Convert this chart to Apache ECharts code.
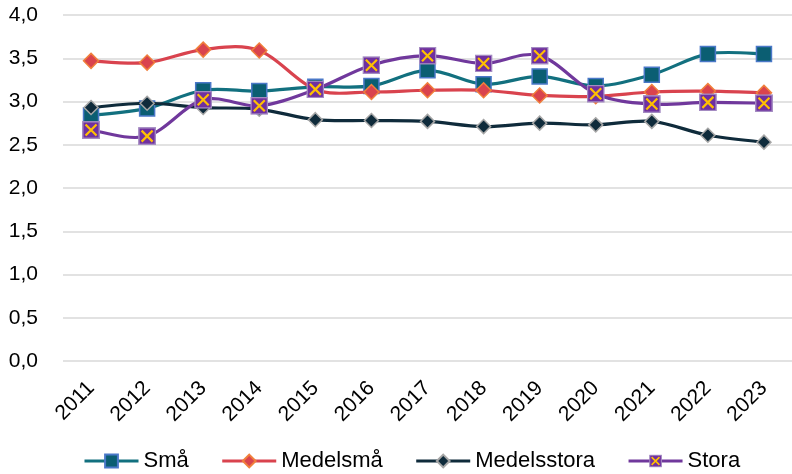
<!DOCTYPE html>
<html><head><meta charset="utf-8">
<script src="https://cdn.jsdelivr.net/npm/echarts@6/dist/echarts.min.js"></script>
<style>html,body{margin:0;padding:0;background:#fff}#c{width:792px;height:474px}</style>
</head><body><div id="c"></div>
<script>
const years = ['2011','2012','2013','2014','2015','2016','2017','2018','2019','2020','2021','2022','2023'];
const sma = [2.84, 2.92, 3.13, 3.12, 3.17, 3.18, 3.36, 3.20, 3.29, 3.18, 3.31, 3.55, 3.55];
const medelsma = [3.47, 3.45, 3.60, 3.59, 3.14, 3.11, 3.13, 3.13, 3.07, 3.06, 3.11, 3.12, 3.10];
const medelsstora = [2.93, 2.98, 2.93, 2.91, 2.79, 2.78, 2.77, 2.71, 2.75, 2.73, 2.77, 2.61, 2.53];
const stora = [2.67, 2.60, 3.02, 2.95, 3.14, 3.42, 3.53, 3.44, 3.53, 3.09, 2.97, 2.99, 2.98];
const yTicks = [0, 0.5, 1, 1.5, 2, 2.5, 3, 3.5, 4];

const FONT = 'Liberation Sans';
const xSvg = "<svg xmlns='http://www.w3.org/2000/svg' width='18' height='18'><rect x='0.75' y='0.75' width='16.5' height='16.5' fill='#70309F' stroke='#A48BC2' stroke-width='1.5'/><path d='M3.5 3.5L14.5 14.5M14.5 3.5L3.5 14.5' stroke='#FFC000' stroke-width='2.2'/></svg>";
const xSymbol = 'image://data:image/svg+xml;charset=utf-8,' + encodeURIComponent(xSvg);

const chart = echarts.init(document.getElementById('c'));

// Smooth curve (Excel-like Catmull-Rom) drawn through the axis scales via api.coord
function curve(values, color, z) {
  return {
    type: 'custom', coordinateSystem: 'cartesian2d', z, silent: true,
    data: [[0, values[0]]],
    renderItem: function (params, api) {
      const p = values.map((v, i) => api.coord([i, v]));
      const n = p.length;
      let d = 'M' + p[0][0] + ' ' + p[0][1];
      for (let i = 0; i < n - 1; i++) {
        const p0 = p[Math.max(i - 1, 0)], p1 = p[i], p2 = p[i + 1], p3 = p[Math.min(i + 2, n - 1)];
        const c1x = p1[0] + (p2[0] - p0[0]) / 6, c1y = p1[1] + (p2[1] - p0[1]) / 6;
        const c2x = p2[0] - (p3[0] - p1[0]) / 6, c2y = p2[1] - (p3[1] - p1[1]) / 6;
        d += ' C' + c1x + ' ' + c1y + ' ' + c2x + ' ' + c2y + ' ' + p2[0] + ' ' + p2[1];
      }
      return { type: 'path', shape: { pathData: d }, style: { fill: 'none', stroke: color, lineWidth: 3.2, lineJoin: 'round', lineCap: 'round' } };
    },
    animation: false
  };
}
function marks(name, data, symbol, size, fill, border, z) {
  return {
    name, type: 'line', data, z,
    symbol, symbolSize: size, showSymbol: true,
    lineStyle: { width: 0, opacity: 0 },
    itemStyle: { color: fill, borderColor: border, borderWidth: 1.5 },
    emphasis: { disabled: true }, animation: false
  };
}
const colors = { sma: '#12707F', med: '#D9434E', mst: '#0F2B3B', sto: '#70389C' };
chart.setOption({
  animation: false,
  grid: { left: 63, top: 15, width: 736, bottom: 113, containLabel: false },
  xAxis: {
    type: 'category', data: years, boundaryGap: true,
    axisLine: { show: false }, axisTick: { show: false },
    axisLabel: { rotate: 45, margin: 24, fontSize: 21, color: '#000', fontFamily: FONT, interval: 0 }
  },
  yAxis: {
    type: 'value', min: 0, max: 4, interval: 0.5,
    axisLine: { show: false }, axisTick: { show: false },
    splitLine: { lineStyle: { color: '#D9D9D9', width: 1.5 } },
    axisLabel: { margin: 25, fontSize: 21, color: '#000', fontFamily: FONT,
      formatter: v => yTicks.includes(v) ? v.toFixed(1).replace('.', ',') : '' }
  },
  legend: {
    left: 83, top: 450, padding: 0, itemWidth: 54, itemHeight: 16, itemGap: 32,
    textStyle: { fontSize: 22, color: '#000', fontFamily: FONT },
    data: [
      { name: 'Små', lineStyle: { color: colors.sma, width: 3, opacity: 1 } },
      { name: 'Medelsmå', lineStyle: { color: colors.med, width: 3, opacity: 1 } },
      { name: 'Medelsstora', lineStyle: { color: colors.mst, width: 3, opacity: 1 } },
      { name: 'Stora', lineStyle: { color: colors.sto, width: 3, opacity: 1 } }
    ]
  },
  series: [
    curve(sma, colors.sma, 2),
    marks('Små', sma, 'rect', 15, '#0B5E72', '#4A78C8', 2),
    curve(medelsma, colors.med, 3),
    marks('Medelsmå', medelsma, 'diamond', 15, '#D9434E', '#F07F3C', 3),
    curve(medelsstora, colors.mst, 4),
    marks('Medelsstora', medelsstora, 'diamond', 14, '#0F2B3B', '#A6A6A6', 4),
    curve(stora, colors.sto, 5),
    marks('Stora', stora, xSymbol, 18, '#70309F', '#A48BC2', 5)
  ]
});
</script></body></html>
